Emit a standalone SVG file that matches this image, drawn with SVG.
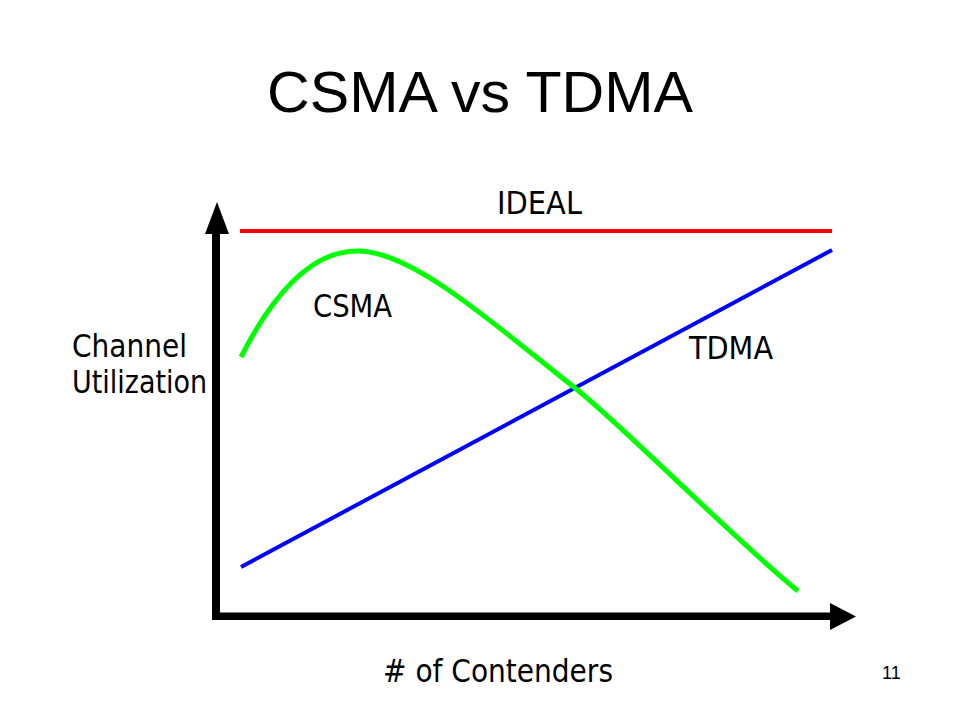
<svg xmlns="http://www.w3.org/2000/svg" width="960" height="720" viewBox="0 0 960 720">
  <style>
    .lbl { font-family: "DejaVu Sans Condensed", "DejaVu Sans", sans-serif; font-size: 32px; fill: #000; }
    .title { font-family: "Liberation Sans", Arial, sans-serif; font-size: 58px; fill: #000; }
    .pg { font-family: "Liberation Sans", Arial, sans-serif; font-size: 18px; fill: #000; }
    .curve { fill: none; stroke-linecap: butt; stroke-linejoin: round; }
  </style>
  <rect x="0" y="0" width="960" height="720" fill="#ffffff"/>
  <g id="title">
    <text class="title" x="480" y="112" text-anchor="middle" textLength="426" lengthAdjust="spacingAndGlyphs">CSMA vs TDMA</text>
  </g>
  <g id="axes">
    <rect x="212" y="232" width="8" height="388" fill="#000"/>
    <polygon points="217,202 205,234 229,234" fill="#000"/>
    <rect x="212" y="612.5" width="620" height="7.5" fill="#000"/>
    <polygon points="830,603 856,616.5 830,630" fill="#000"/>
  </g>
  <g id="connectors">
    <line id="ideal-line" x1="240" y1="231" x2="832" y2="231" stroke="#ff0000" stroke-width="4"/>
    <line id="tdma-line" x1="241" y1="567" x2="832" y2="250" stroke="#0000ff" stroke-width="4"/>
    <path id="csma-curve" class="curve" d="M241,357 C270,300 310,249 360,251 C415,253 495,325 575,388 C620,423 735,540 798,591" stroke="#00ff00" stroke-width="5"/>
  </g>
  <g id="labels">
    <text id="ideal-label" class="lbl" x="497" y="214" textLength="85" lengthAdjust="spacingAndGlyphs">IDEAL</text>
    <text id="csma-label" class="lbl" x="313" y="317" textLength="79" lengthAdjust="spacingAndGlyphs">CSMA</text>
    <text id="tdma-label" class="lbl" x="689" y="359" textLength="84" lengthAdjust="spacingAndGlyphs">TDMA</text>
    <text id="y-label-1" class="lbl" x="72" y="357" textLength="115" lengthAdjust="spacingAndGlyphs">Channel</text>
    <text id="y-label-2" class="lbl" x="72" y="393" textLength="135" lengthAdjust="spacingAndGlyphs">Utilization</text>
    <text id="x-label" class="lbl" x="383" y="682" textLength="230" lengthAdjust="spacingAndGlyphs"># of Contenders</text>
    <text id="page-number" class="pg" x="882" y="679">11</text>
  </g>
</svg>
